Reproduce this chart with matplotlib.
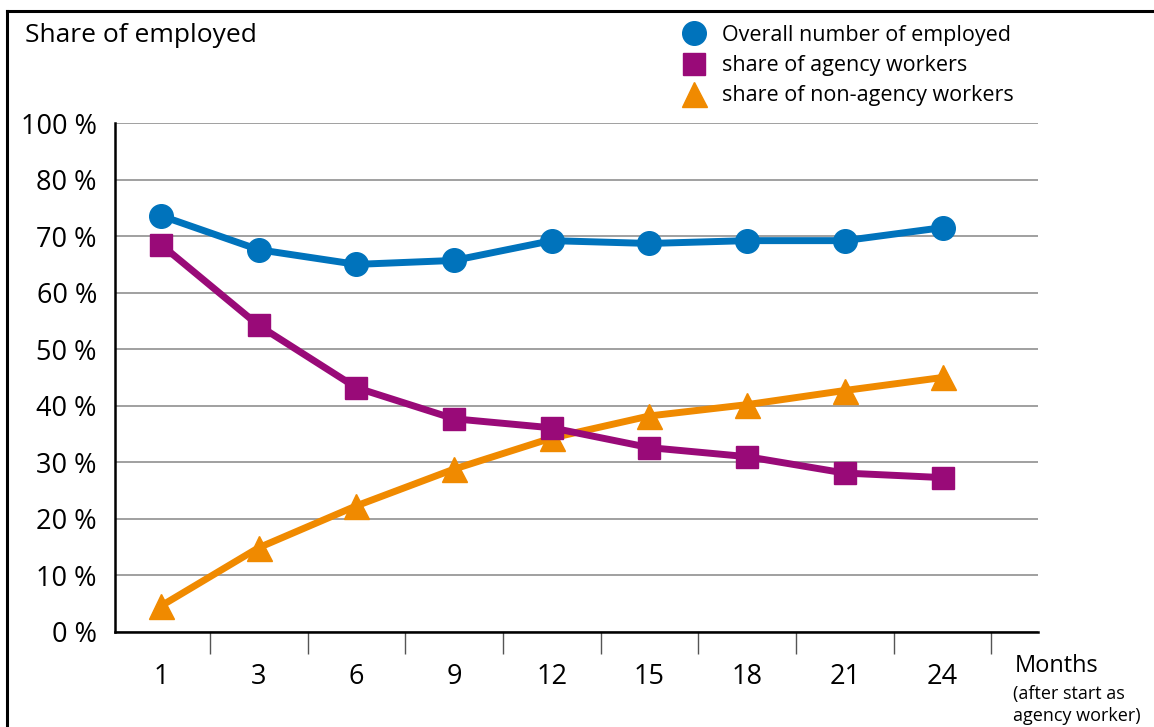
import matplotlib
matplotlib.use("Agg")
import matplotlib.pyplot as plt
from matplotlib.lines import Line2D

plt.rcParams['font.family'] = ['Open Sans', 'DejaVu Sans']

months = ['1', '3', '6', '9', '12', '15', '18', '21', '24']
overall = [73.6, 67.6, 65.0, 65.7, 69.2, 68.7, 69.2, 69.2, 71.5]
agency = [68.5, 54.2, 43.2, 37.7, 36.1, 32.6, 31.0, 28.1, 27.3]
non_agency = [4.6, 14.9, 22.3, 28.8, 34.3, 38.2, 40.2, 42.7, 45.0]
ytick_vals = [0, 10, 20, 30, 40, 50, 60, 70, 80, 90]
ytick_labels = ['0 %', '10 %', '20 %', '30 %', '40 %', '50 %', '60 %', '70 %', '80 %', '100 %']

BLUE = '#0073BC'
PURPLE = '#990A78'
ORANGE = '#F08A00'

fig = plt.figure(figsize=(11.54, 7.27), dpi=100)
ax = fig.add_axes([0.0997, 0.1307, 0.80, 0.7001])

x = list(range(len(months)))
ax.plot(x, overall, color=BLUE, lw=5, marker='o', ms=17, zorder=5,
        label='Overall number of employed')
ax.plot(x, agency, color=PURPLE, lw=5, marker='s', ms=16, zorder=4,
        label='share of agency workers')
ax.plot(x, non_agency, color=ORANGE, lw=5, marker='^', ms=18, zorder=3,
        label='share of non-agency workers')

ax.set_xlim(-0.47, 8.98)
ax.set_ylim(0, 90)
ax.set_yticks(ytick_vals)
ax.set_yticklabels(ytick_labels)
ax.set_xticks(x)
ax.set_xticklabels(months)
ax.set_xticks([i + 0.5 for i in x], minor=True)
ax.tick_params(axis='x', which='major', length=0, pad=22, labelsize=19.5)
ax.tick_params(axis='x', which='minor', length=16, width=1, color='#555555')
ax.tick_params(axis='y', length=0, pad=13, labelsize=19.5)

ax.grid(axis='y', color='#999999', lw=1.3)
ax.set_axisbelow(True)
for s in ['top', 'right']:
    ax.spines[s].set_visible(False)
for s in ['left', 'bottom']:
    ax.spines[s].set_linewidth(1.8)
    ax.spines[s].set_color('black')
    ax.spines[s].set_zorder(6)

fig.text(25 / 1154, 1 - 35 / 727, 'Share of employed', fontsize=19, va='center', ha='left')
fig.text(1015 / 1154, 1 - 666 / 727, 'Months', fontsize=17, va='center', ha='left')
fig.text(1013 / 1154, 1 - 705 / 727, '(after start as\nagency worker)', fontsize=13,
         va='center', ha='left', linespacing=1.25)

handles = [Line2D([], [], color=BLUE, marker='o', ls='none', ms=17),
           Line2D([], [], color=PURPLE, marker='s', ls='none', ms=16),
           Line2D([], [], color=ORANGE, marker='^', ls='none', ms=18)]
labels = ['Overall number of employed', 'share of agency workers', 'share of non-agency workers']
fig.legend(handles, labels, loc='upper left', bbox_to_anchor=(683 / 1154, 1 - 25 / 727),
           frameon=False, fontsize=15.5, handlelength=1.0, handletextpad=0.8,
           labelspacing=0.42, borderpad=0, borderaxespad=0)

# figure frame
fig.add_artist(Line2D([7 / 1154, 1.0], [1 - 11 / 727, 1 - 11 / 727],
                      transform=fig.transFigure, color='black', lw=2.2))
fig.add_artist(Line2D([7 / 1154, 7 / 1154], [0, 1 - 11 / 727],
                      transform=fig.transFigure, color='black', lw=2.2))

fig.savefig('out.png', dpi=100)
